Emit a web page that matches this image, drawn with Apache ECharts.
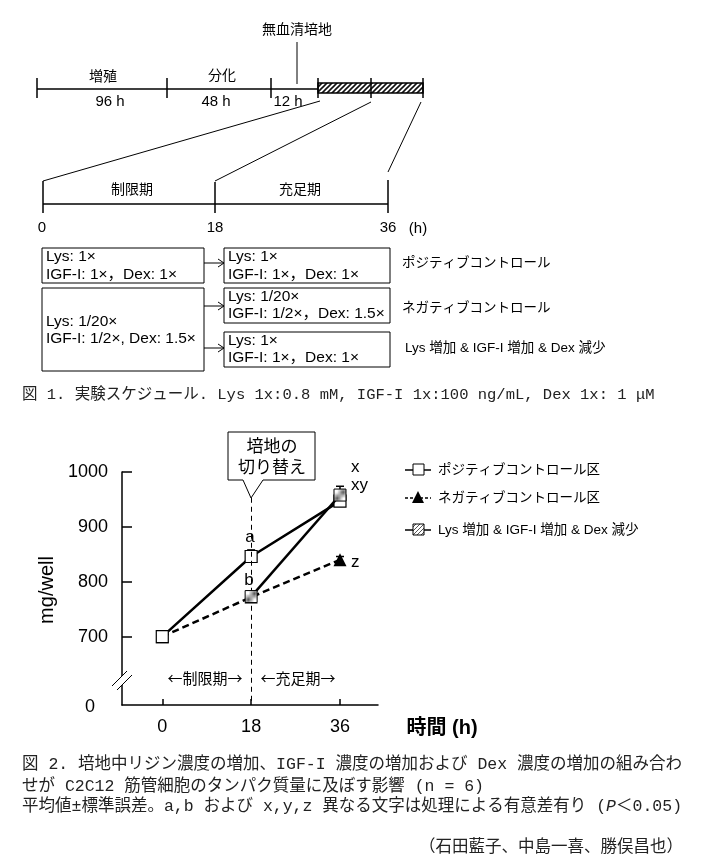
<!DOCTYPE html>
<html><head><meta charset="utf-8">
<script src="https://cdn.jsdelivr.net/npm/echarts@6/dist/echarts.min.js"></script>
<style>html,body{margin:0;padding:0;background:#fff}#c{width:705px;height:864px}</style>
</head><body><div id="c"></div>
<script>
// ---------- data ----------
const timeH = [0, 18, 36];
const positiveCtrl = [700, 846, 947];
const negativeCtrl = [700, 772, 840];
// shares the negative-control treatment during the restriction period (0-18 h), drawn from 18 h
const lysIgfDex = [null, 773, 958];
const positiveSE = [0, 12, 7];
const negativeSE = [0, 4, 6];
const lysIgfDexSE = [0, 4, 16];
const xTickValues = [0, 18, 36];
const yTickValues = [700, 800, 900, 1000];
const seriesNames = ['ポジティブコントロール区', 'ネガティブコントロール区', 'Lys 増加 & IGF-I 増加 & Dex 減少'];

// ---------- helpers ----------
const F = "'Liberation Sans', Arial, 'Noto Sans CJK JP', sans-serif";
const JF = "'Noto Sans CJK JP', sans-serif";
const CF = "'Liberation Mono', 'Noto Sans CJK JP', monospace";
function hatch(size, bg, fg, lw) {
  const c = document.createElement('canvas');
  c.width = c.height = size;
  const g = c.getContext('2d');
  g.fillStyle = bg; g.fillRect(0, 0, size, size);
  g.strokeStyle = fg; g.lineWidth = lw;
  g.beginPath();
  g.moveTo(0, size); g.lineTo(size, 0);
  g.moveTo(-size / 2, size / 2); g.lineTo(size / 2, -size / 2);
  g.moveTo(size / 2, size * 1.5); g.lineTo(size * 1.5, size / 2);
  g.stroke();
  return { image: c, repeat: 'repeat' };
}
const markHatch = hatch(4, '#fff', '#555', 1);
const barHatch = hatch(5, '#fff', '#111', 1.6);

function T(x, y, text, size, align, family, color, weight, extra) {
  return Object.assign({
    type: 'text', x: x, y: y, silent: true,
    style: {
      text: text, font: (weight || 'normal') + ' ' + size + 'px ' + (family || F),
      fill: color || '#000', align: align || 'center', verticalAlign: 'middle'
    }
  }, extra || {});
}
function L(x1, y1, x2, y2, w, dash) {
  return { type: 'line', silent: true, shape: { x1: x1, y1: y1, x2: x2, y2: y2 },
    style: { stroke: '#000', lineWidth: w || 1, lineDash: dash || null } };
}
function R(x, y, w, h, fill, lw) {
  return { type: 'rect', silent: true, shape: { x: x, y: y, width: w, height: h },
    style: { fill: fill || '#fff', stroke: '#000', lineWidth: lw || 1 } };
}
function arrow(x1, x2, y) {
  return [L(x1, y, x2, y, 1), L(x2 - 6, y - 4, x2, y, 1), L(x2 - 6, y + 4, x2, y, 1)];
}

const g = [];
// ---------- Figure 1: schedule ----------
g.push(L(37, 89, 318, 89, 1.5));
g.push(R(318, 83, 105, 10, barHatch, 1.5));
[37, 167, 271, 318, 371, 423].forEach(x => g.push(L(x, 78, x, 98, 1.5)));
g.push(T(103, 77, '増殖', 14));
g.push(T(222, 76, '分化', 14));
g.push(T(110, 102, '96 h', 15));
g.push(T(216, 102, '48 h', 15));
g.push(T(288, 102, '12 h', 15));
g.push(T(297, 30, '無血清培地', 14));
g.push(L(297, 42, 297, 84, 1));
g.push(L(320, 101, 43, 181, 1));
g.push(L(371, 102, 215, 181, 1));
g.push(L(421, 102, 388, 172, 1));
g.push(L(43, 204, 388, 204, 1.5));
g.push(L(43, 181, 43, 213, 1.5));
g.push(L(215, 182, 215, 213, 1.5));
g.push(L(388, 180, 388, 213, 1.5));
g.push(T(132, 190, '制限期', 14));
g.push(T(300, 190, '充足期', 14));
g.push(T(42, 228, '0', 15));
g.push(T(215, 228, '18', 15));
g.push(T(388, 228, '36', 15));
g.push(T(418, 229, '(h)', 15));
// boxes
const BS = 15.5;
g.push(R(42, 248, 162, 35));
g.push(T(46, 257, 'Lys: 1×', BS, 'left'));
g.push(T(46, 275, 'IGF-I: 1×，Dex: 1×', BS, 'left'));
g.push(R(224, 248, 166, 35));
g.push(T(228, 257, 'Lys: 1×', BS, 'left'));
g.push(T(228, 275, 'IGF-I: 1×，Dex: 1×', BS, 'left'));
g.push(R(42, 288, 162, 83));
g.push(T(46, 322, 'Lys: 1/20×', BS, 'left'));
g.push(T(46, 339, 'IGF-I: 1/2×, Dex: 1.5×', BS, 'left'));
g.push(R(224, 288, 166, 35));
g.push(T(228, 297, 'Lys: 1/20×', BS, 'left'));
g.push(T(228, 314, 'IGF-I: 1/2×，Dex: 1.5×', BS, 'left'));
g.push(R(224, 332, 166, 35));
g.push(T(228, 341, 'Lys: 1×', BS, 'left'));
g.push(T(228, 358, 'IGF-I: 1×，Dex: 1×', BS, 'left'));
g.push(...arrow(204, 224, 263));
g.push(...arrow(204, 224, 306));
g.push(...arrow(204, 224, 348));
g.push(T(402, 263, 'ポジティブコントロール', 13.5, 'left'));
g.push(T(402, 308, 'ネガティブコントロール', 13.5, 'left'));
g.push(T(405, 348, 'Lys 増加 & IGF-I 増加 & Dex 減少', 13.5, 'left'));
g.push(T(22, 395, '図 1. 実験スケジュール. Lys 1x:0.8 mM, IGF-I 1x:100 ng/mL, Dex 1x: 1 μM', 15.5, 'left', CF, '#222'));

// ---------- Figure 2 annotations ----------
g.push({ type: 'polygon', silent: true, z: 100,
  shape: { points: [[228, 432], [315, 432], [315, 480], [263, 480], [251, 498], [243, 480], [228, 480]] },
  style: { fill: '#fff', stroke: '#000', lineWidth: 1 } });
g.push(T(272, 447, '培地の', 17, 'center', F, '#000', 'normal', { z: 101 }));
g.push(T(272, 468, '切り替え', 17, 'center', F, '#000', 'normal', { z: 101 }));
g.push(T(250, 537, 'a', 17));
g.push(T(249, 580, 'b', 17));
g.push(T(351, 467, 'x', 17, 'left'));
g.push(T(351, 485, 'xy', 17, 'left'));
g.push(T(351, 562, 'z', 17, 'left'));
g.push(T(205, 678, '←制限期→', 15, 'center', JF));
g.push(T(298, 678, '←充足期→', 15, 'center', JF));
// axis break
g.push({ type: 'polygon', silent: true, z: 100, shape: { points: [[112, 686], [127, 671], [132, 675], [117, 690]] }, style: { fill: '#fff' } });
g.push(Object.assign(L(112, 686, 127, 671, 1), { z: 101 }));
g.push(Object.assign(L(117, 690, 132, 675, 1), { z: 101 }));
g.push(T(90, 707, '0', 18));
g.push(T(47, 590, 'mg/well', 20, 'center', F, '#000', 'normal', { rotation: Math.PI / 2 }));
g.push(T(442, 728, '時間 (h)', 20, 'center', F, '#000', 'bold'));
// legend
g.push(L(405, 470, 431, 470, 1.5));
g.push(R(413, 464, 11, 11, '#fff', 1));
g.push(L(405, 498, 431, 498, 1.5, [3, 2]));
g.push({ type: 'polygon', silent: true, shape: { points: [[418, 491], [424, 503], [412, 503]] }, style: { fill: '#000' } });
g.push(L(405, 530, 431, 530, 1.5));
g.push(R(413, 524, 11, 11, markHatch, 1));
g.push(T(438, 470, seriesNames[0], 13.5, 'left'));
g.push(T(438, 498, seriesNames[1], 13.5, 'left'));
g.push(T(438, 530, seriesNames[2], 13.5, 'left'));

// captions
const CS = 16.5;
g.push(T(22, 765, '図 2. 培地中リジン濃度の増加、IGF-I 濃度の増加および Dex 濃度の増加の組み合わ', CS, 'left', CF, '#222'));
g.push(T(22, 787, 'せが C2C12 筋管細胞のタンパク質量に及ぼす影響 (n = 6)', CS, 'left', CF, '#222'));
g.push({ type: 'text', x: 22, y: 807, silent: true, style: {
  text: '平均値±標準誤差。a,b および x,y,z 異なる文字は処理による有意差有り ({i|P}＜0.05)',
  font: CS + 'px ' + CF, fill: '#222', align: 'left', verticalAlign: 'middle',
  rich: { i: { fontStyle: 'italic', fontFamily: CF, fontSize: CS, fill: '#222' } } } });
g.push(T(683, 848, '（石田藍子、中島一喜、勝俣昌也）', CS, 'right', CF, '#222'));

// ---------- chart ----------
const Y_MIN = 575.4;
const zip = (a, b) => a.map((v, i) => [v, b[i] == null ? '-' : b[i]]);
const errData = [];
[[positiveCtrl, positiveSE], [negativeCtrl, negativeSE], [lysIgfDex, lysIgfDexSE]].forEach(([m, s]) => {
  timeH.forEach((t, i) => { if (m[i] != null && s[i] > 0) errData.push([t, m[i], m[i] + s[i]]); });
});

const chart = echarts.init(document.getElementById('c'), null, { renderer: 'canvas' });
chart.setOption({
  animation: false,
  backgroundColor: '#fff',
  grid: { left: 122, top: 472, width: 256, height: 233, containLabel: false },
  xAxis: {
    type: 'value', min: -8.16, max: 43.7,
    axisLine: { onZero: false, lineStyle: { color: '#000', width: 1.5 } },
    axisTick: { inside: true, length: 6, customValues: xTickValues, lineStyle: { color: '#000', width: 1.5 } },
    axisLabel: { customValues: xTickValues, margin: 13, color: '#000', fontSize: 18, fontFamily: F },
    splitLine: { show: false }
  },
  yAxis: {
    type: 'value', min: Y_MIN, max: 1000,
    axisLine: { show: true, onZero: false, lineStyle: { color: '#000', width: 1.5 } },
    axisTick: { show: true, inside: true, length: 10, customValues: yTickValues, lineStyle: { color: '#000', width: 1.5 } },
    axisLabel: { customValues: yTickValues, margin: 14, color: '#000', fontSize: 18, fontFamily: F,
      formatter: v => String(v) },
    splitLine: { show: false }
  },
  series: [
    { type: 'custom', z: 1, silent: true, data: errData,
      renderItem: function (params, api) {
        const lo = api.coord([api.value(0), api.value(1)]);
        const hi = api.coord([api.value(0), api.value(2)]);
        return { type: 'group', children: [
          { type: 'line', shape: { x1: lo[0], y1: lo[1], x2: hi[0], y2: hi[1] }, style: { stroke: '#000', lineWidth: 1.5 } },
          { type: 'line', shape: { x1: hi[0] - 4, y1: hi[1], x2: hi[0] + 4, y2: hi[1] }, style: { stroke: '#000', lineWidth: 1.5 } }
        ] };
      },
      markLine: { silent: true, symbol: 'none', label: { show: false },
        lineStyle: { color: '#000', width: 1, type: [5, 4] },
        data: [[{ coord: [18, 953] }, { coord: [18, Y_MIN] }]] }
    },
    { name: seriesNames[1], type: 'line', z: 3, data: zip(timeH, negativeCtrl), symbol: 'triangle', symbolSize: 13,
      itemStyle: { color: '#000' }, lineStyle: { color: '#000', width: 2.5, type: [7, 4] } },
    { name: seriesNames[0], type: 'line', z: 4, data: zip(timeH, positiveCtrl), symbol: 'rect', symbolSize: 12,
      itemStyle: { color: '#fff', borderColor: '#000', borderWidth: 1.2 }, lineStyle: { color: '#000', width: 2.5 } },
    { name: seriesNames[2], type: 'line', z: 5, data: zip(timeH, lysIgfDex), symbol: 'rect', symbolSize: 12,
      itemStyle: { color: markHatch, borderColor: '#000', borderWidth: 1 }, lineStyle: { color: '#000', width: 2.5 } }
  ],
  graphic: { elements: g }
});
</script></body></html>
